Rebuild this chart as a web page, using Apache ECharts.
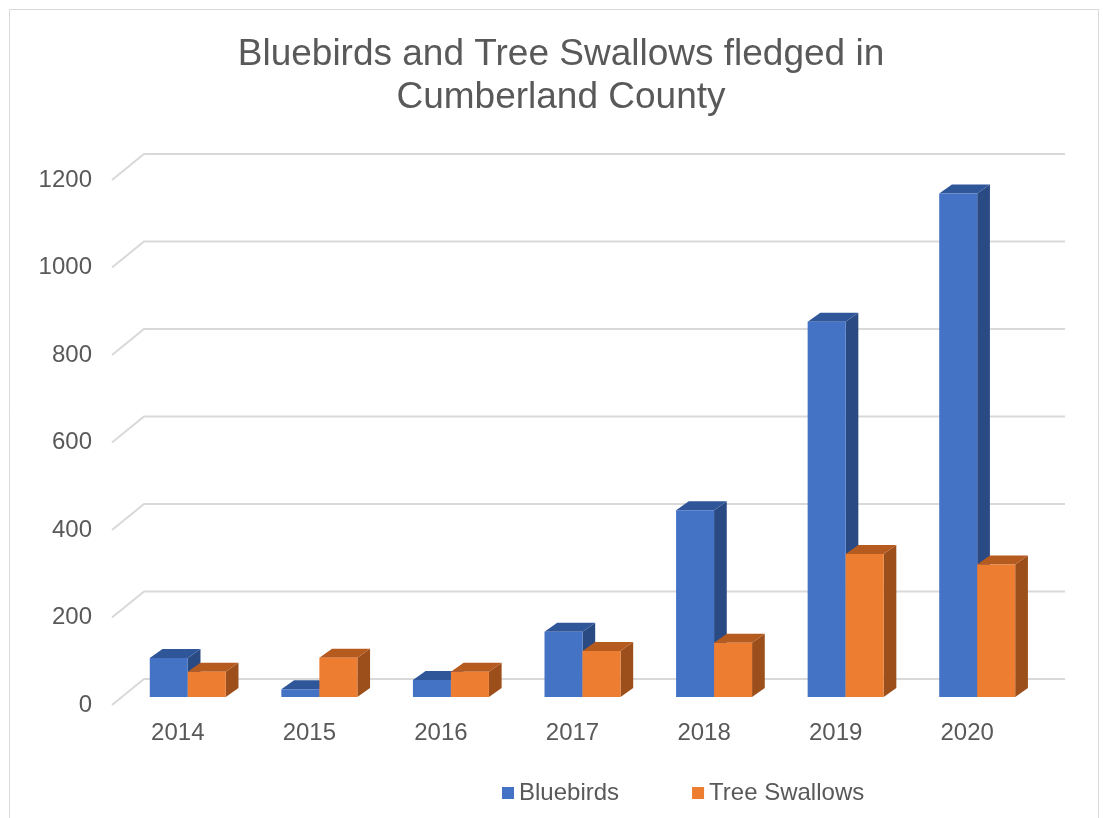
<!DOCTYPE html>
<html>
<head>
<meta charset="utf-8">
<script src="https://cdn.jsdelivr.net/npm/echarts@6/dist/echarts.min.js"></script>
<style>html,body{margin:0;padding:0;background:#fff;}#chart{width:1103px;height:818px;}</style>
</head>
<body>
<div id="chart"></div>
<script>
var years = ['2014', '2015', '2016', '2017', '2018', '2019', '2020'];
var bluebirds = [89, 18, 39, 149, 427, 858, 1151];
var treeSwallows = [58, 90, 58, 105, 124, 327, 303];
var yTicks = [0, 200, 400, 600, 800, 1000, 1200];
var titleText = 'Bluebirds and Tree Swallows fledged in\nCumberland County';

var FONT = "'Liberation Sans', Arial, sans-serif";
var TXT = '#595959';
var WALL = [32, -26];      // front plane -> back wall offset
var FRONT = [10, -8];      // front plane -> bar front face offset
var DEPTH = [12.7, -9];    // bar depth offset
var BARW = 38;

function barRenderer(side, cFront, cTop, cSide) {
  return function (params, api) {
    var i = api.value(0), v = api.value(1);
    var base = api.coord([i, 0]);
    var top = api.coord([i, v]);
    var cx = base[0] + FRONT[0];
    var x0 = side === 0 ? cx - BARW : cx;
    var x1 = x0 + BARW;
    var yb = base[1] + FRONT[1];
    var yt = top[1] + FRONT[1];
    var dx = DEPTH[0], dy = DEPTH[1];
    return {
      type: 'group',
      children: [
        { type: 'polygon', shape: { points: [[x1, yt], [x1 + dx, yt + dy], [x1 + dx, yb + dy], [x1, yb]] }, style: { fill: cSide } },
        { type: 'polygon', shape: { points: [[x0, yt], [x0 + dx, yt + dy], [x1 + dx, yt + dy], [x1, yt]] }, style: { fill: cTop } },
        { type: 'rect', shape: { x: x0, y: yt, width: BARW, height: yb - yt }, style: { fill: cFront } }
      ]
    };
  };
}

var chart = echarts.init(document.getElementById('chart'), null, { renderer: 'canvas' });
var option = {
  backgroundColor: '#fff',
  animation: false,
  title: {
    text: titleText,
    left: 556,
    top: 28,
    textAlign: 'center',
    textStyle: { fontFamily: FONT, fontSize: 37, fontWeight: 'normal', color: TXT, lineHeight: 43 }
  },
  legend: {
    bottom: 8,
    left: 497,
    itemWidth: 12,
    itemHeight: 12,
    itemGap: 73,
    icon: 'rect',
    textStyle: { fontFamily: FONT, fontSize: 24, color: TXT },
    data: ['Bluebirds', 'Tree Swallows']
  },
  graphic: [{
    type: 'rect', left: 7, top: 7, shape: { width: 1089, height: 830 },
    style: { fill: null, stroke: '#d9d9d9', lineWidth: 1 }, silent: true
  }],
  grid: { left: 112, right: 70, top: 180, bottom: 113 },
  xAxis: {
    type: 'category',
    data: years,
    axisLine: { show: false },
    axisTick: { show: false },
    axisLabel: { margin: 16, fontFamily: FONT, fontSize: 24, color: TXT }
  },
  yAxis: {
    type: 'value',
    min: 0, max: 1200, interval: 200,
    axisLine: { show: false },
    axisTick: { show: false },
    splitLine: { show: false },
    axisLabel: { margin: 20, fontFamily: FONT, fontSize: 24, color: TXT, formatter: function (v) { return String(v); } }
  },
  series: [
    {
      type: 'custom',
      name: 'grid',
      silent: true,
      data: yTicks.map(function (v) { return [0, v]; }),
      renderItem: function (params, api) {
        var v = api.value(1);
        var band = api.size([1, 0])[0];
        var p = api.coord([0, v]);
        var pr = api.coord([years.length - 1, v]);
        var xl = p[0] - band / 2;
        var xr = pr[0] + band / 2;
        var st = { stroke: '#d9d9d9', lineWidth: 2, fill: null };
        return {
          type: 'group',
          children: [
            { type: 'polyline', shape: { points: [[xl, p[1]], [xl + WALL[0], p[1] + WALL[1]], [xr + WALL[0], p[1] + WALL[1]]] }, style: st }
          ]
        };
      },
      z: 1
    },
    {
      type: 'custom',
      name: 'Bluebirds',
      itemStyle: { color: '#4472C4' },
      data: bluebirds.map(function (v, i) { return [i, v]; }),
      renderItem: barRenderer(0, '#4472C4', '#30569A', '#2A4A84'),
      z: 2
    },
    {
      type: 'custom',
      name: 'Tree Swallows',
      itemStyle: { color: '#ED7D31' },
      data: treeSwallows.map(function (v, i) { return [i, v]; }),
      renderItem: barRenderer(1, '#ED7D31', '#B65B20', '#9C4F1B'),
      z: 3
    }
  ]
};
chart.setOption(option);
</script>
</body>
</html>
